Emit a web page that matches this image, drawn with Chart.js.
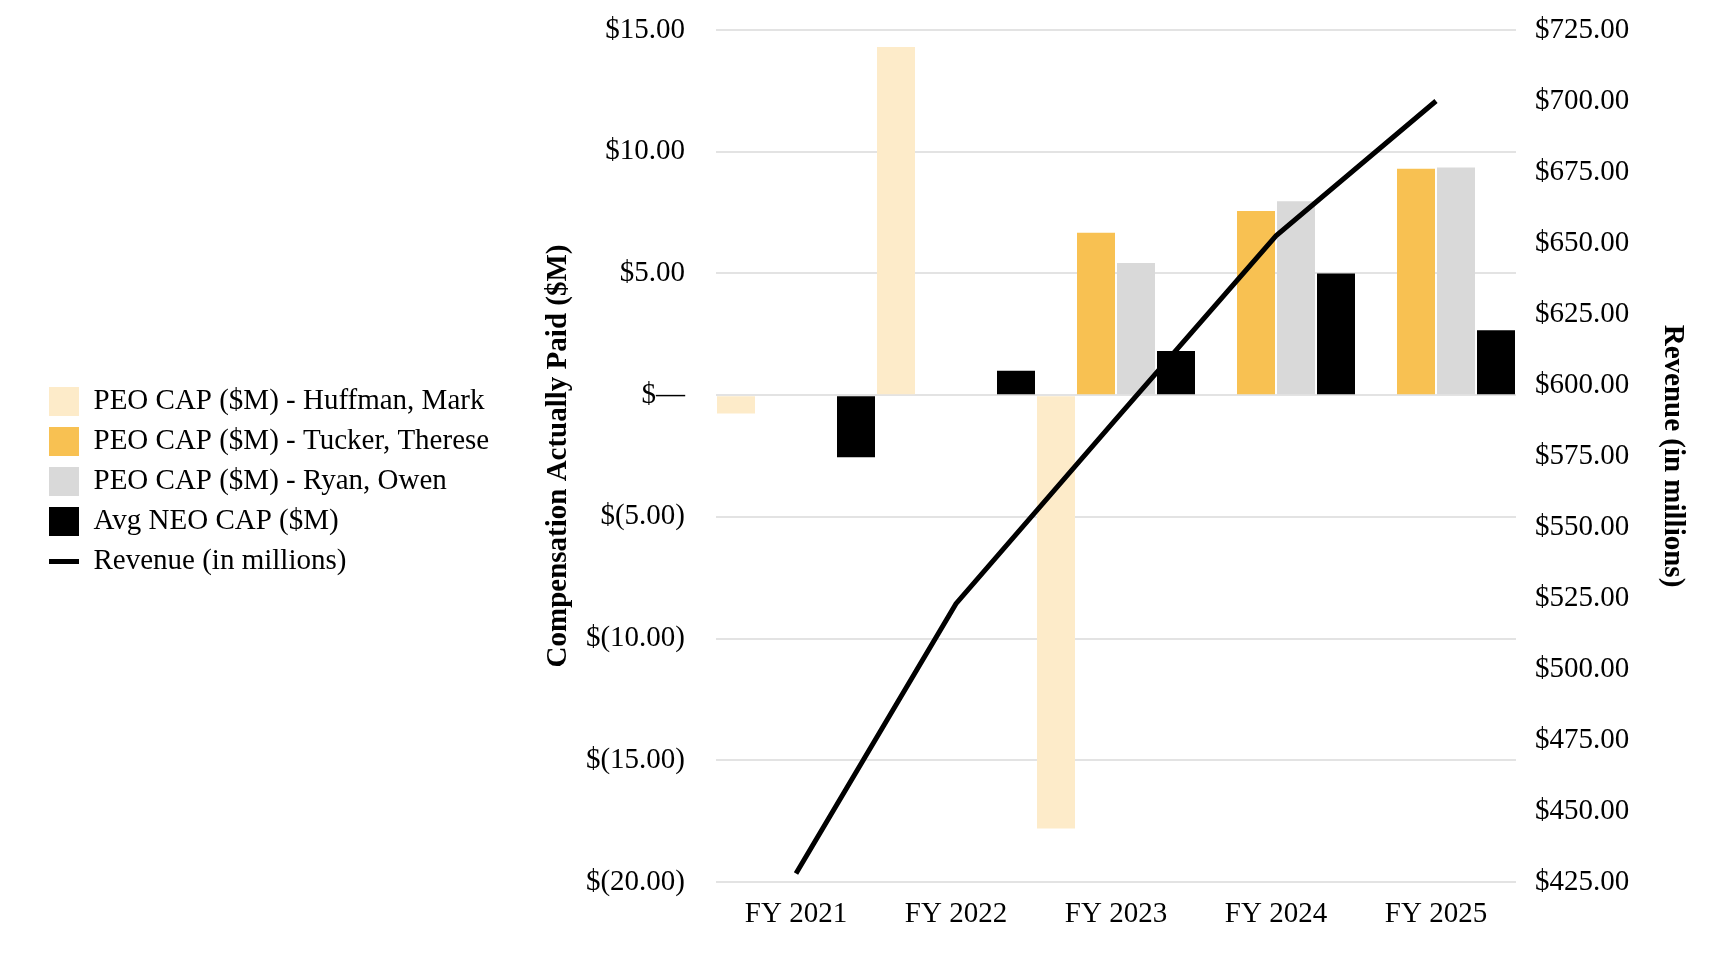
<!DOCTYPE html>
<html>
<head>
<meta charset="utf-8">
<script src="https://cdn.jsdelivr.net/npm/chart.js@4/dist/chart.umd.min.js"></script>
<style>
  html, body { margin: 0; padding: 0; background: #fff; }
  #wrap { width: 1728px; height: 960px; position: relative; }
</style>
</head>
<body>
<div id="wrap"><canvas id="c" width="1728" height="960"></canvas></div>
<script>
const categories = ['FY 2021', 'FY 2022', 'FY 2023', 'FY 2024', 'FY 2025'];
const huffman = [-0.75, 14.3, -17.8, null, null];
const tucker = [null, null, 6.67, 7.56, 9.3];
const ryan = [null, null, 5.43, 7.97, 9.35];
const avgNeo = [-2.55, 1.0, 1.81, 5.0, 2.67];
const revenue = [428, 523, 588, 652.5, 700];

const leftTicks = { min: -20, max: 15, step: 5 };
const rightTicks = { min: 425, max: 725, step: 25 };

const seriesLabels = ['PEO CAP ($M) - Huffman, Mark', 'PEO CAP ($M) - Tucker, Therese', 'PEO CAP ($M) - Ryan, Owen', 'Avg NEO CAP ($M)', 'Revenue (in millions)'];

const FONT = 'Liberation Serif';
const FS = 29;

function fmtLeft(v) {
  if (v === 0) return '$\u2014';
  if (v < 0) return '$(' + Math.abs(v).toFixed(2) + ')';
  return '$' + v.toFixed(2);
}
function fmtRight(v) { return '$' + v.toFixed(2); }

// estimate legend width to place the left axis title
const mctx = document.createElement('canvas').getContext('2d');
mctx.font = FS + 'px "' + FONT + '"';
const maxText = Math.max(...seriesLabels.map(t => mctx.measureText(t).width));
const legendEst = 11 + 30 + FS / 2 + maxText + 10;
const PAD_LEFT = 38;
const PAD_TOP = 30;
const PAD_BOTTOM = 27;
const CHART_LEFT = 716;
const CHART_RIGHT = 1516;
const CHART_BOTTOM = 882;
const titleTop = Math.max(0, 559 - 17.4 - PAD_LEFT - legendEst);

Chart.defaults.font.family = FONT;
Chart.defaults.font.size = FS;
Chart.defaults.color = '#000';

function noVPad(s) { s.paddingTop = 0; s.paddingBottom = 0; }

new Chart(document.getElementById('c'), {
  data: {
    labels: categories,
    datasets: [
      { type: 'bar', label: seriesLabels[0], data: huffman, backgroundColor: '#FDEBC9', yAxisID: 'y', order: 2, pointStyle: 'rect' },
      { type: 'bar', label: seriesLabels[1], data: tucker, backgroundColor: '#F8C152', yAxisID: 'y', order: 2, pointStyle: 'rect' },
      { type: 'bar', label: seriesLabels[2], data: ryan, backgroundColor: '#D9D9D9', yAxisID: 'y', order: 2, pointStyle: 'rect' },
      { type: 'bar', label: seriesLabels[3], data: avgNeo, backgroundColor: '#000000', yAxisID: 'y', order: 2, pointStyle: 'rect' },
      { type: 'line', label: seriesLabels[4], data: revenue, borderColor: '#000', backgroundColor: '#000', borderWidth: 5, pointRadius: 0, tension: 0, yAxisID: 'y2', order: 0, pointStyle: 'line' }
    ]
  },
  options: {
    responsive: false,
    animation: false,
    devicePixelRatio: 1,
    datasets: { bar: { categoryPercentage: 1.0, barPercentage: 0.95 } },
    layout: { padding: { left: PAD_LEFT, right: 20, top: PAD_TOP, bottom: PAD_BOTTOM } },
    plugins: {
      tooltip: { enabled: false },
      legend: {
        position: 'left',
        align: 'center',
        maxWidth: 800,
        labels: {
          usePointStyle: true,
          pointStyleWidth: 30,
          boxHeight: 30,
          padding: 11,
          font: { family: FONT, size: FS },
          color: '#000',
          sort: (a, b) => a.datasetIndex - b.datasetIndex
        }
      }
    },
    scales: {
      x: {
        offset: true,
        grid: { display: false, drawTicks: false },
        border: { display: false },
        ticks: { padding: 15, font: { family: FONT, size: FS }, color: '#000' },
        afterFit: (s) => { s.height = 960 - PAD_BOTTOM - CHART_BOTTOM; }
      },
      y: {
        position: 'left',
        min: leftTicks.min, max: leftTicks.max,
        grid: { color: '#E3E3E3', lineWidth: 2, drawTicks: false },
        border: { display: false },
        ticks: { stepSize: leftTicks.step, padding: 31, callback: fmtLeft, font: { family: FONT, size: FS }, color: '#000' },
        title: { display: true, text: 'Compensation Actually Paid ($M)', font: { family: FONT, size: FS, weight: 'bold' }, color: '#000', padding: { top: titleTop, bottom: 10 } },
        afterFit: (s) => {
          noVPad(s);
          const lw = s.chart.legend ? s.chart.legend.width : legendEst;
          s.width = CHART_LEFT - PAD_LEFT - lw;
        }
      },
      y2: {
        position: 'right',
        min: rightTicks.min, max: rightTicks.max,
        grid: { display: false, drawTicks: false },
        border: { display: false },
        ticks: { stepSize: rightTicks.step, padding: 19, callback: fmtRight, font: { family: FONT, size: FS }, color: '#000' },
        title: { display: true, text: 'Revenue (in millions)', font: { family: FONT, size: FS, weight: 'bold' }, color: '#000', padding: { top: 18, bottom: 26 } },
        afterFit: (s) => { noVPad(s); s.width = 1708 - CHART_RIGHT; }
      }
    }
  }
});
</script>
</body>
</html>
